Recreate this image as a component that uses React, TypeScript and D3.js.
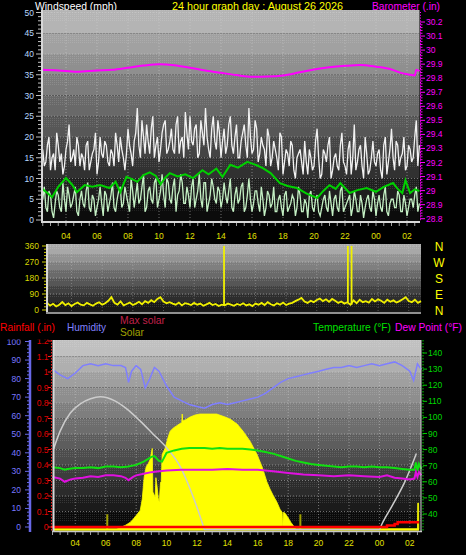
import React from 'react';
import * as d3 from 'd3';

// ---------- DATA ----------
const T0 = 2.4;
const STEP = 0.2;
// gust readings at T0 + 0.2*i
const gust = [15,13,18,12,16,21,14,11,17,
  23,15,13,18,16,12,19,14,17,11,20,
  15,18,13,16,21,14,17,12,22,16,19,
  27,15,20,23,16,25,18,14,21,24,17,
  22,16,25,19,15,21,25,18,23,16,21,
  27,17,22,19,24,15,22,18,25,16,23,
  15,21,18,27,16,24,14,20,17,22,13,
  19,15,21,11,17,13,18,10,16,14,19,
  11,15,13,22,10,17,14,20,12,16,12,
  21,13,17,11,23,14,18,10,16,12,19,
  13,17,10,20,14,22,12,18,15,20,13,
  17,15,24,18];
// gust readings at T0 + 0.1 + 0.2*i
const gustMid = [17,14,20,15,12,18,16,13,19,
  14,17,20,13,15,18,12,16,21,14,16,
  19,14,17,13,18,20,15,16,18,13,21,
  18,24,16,19,22,15,20,17,23,16,19,
  17,23,16,20,26,17,19,22,15,24,18,
  20,15,25,17,21,19,16,23,18,20,15,
  19,23,15,20,17,22,16,18,13,20,15,
  17,12,20,14,16,19,12,15,17,11,14,
  17,12,19,15,11,16,18,10,15,13,18,
  14,11,19,15,12,17,13,20,11,15,14,
  16,12,18,11,17,15,19,13,16,12,18,
  14,20,13];
const windAvg = [4,8,2,6,0.5,7,3,9,2,6,4,8,1,7,3,9,2,5,3,8,1,6,4,9,2,7,3,8,4,10,
  3,9,5,11,3,8,4,10,5,11,3,9,4,10,6,11,4,8,3,10,5,11,3,9,4,10,5,8,3,9,
  4,10,2,8,5,9,3,10,2,7,4,8,1,7,3,8,2,6,1,7,3,6,1,8,2,5,0.5,7,2,6,
  1,5,3,7,1,6,2,8,3,5,1,7,2,6,0.5,5,3,7,1,6,2,8,1,5,3,7,2,6,1,5,3,8,4];
const windAvgMid = [5,3,7,2,4,6,2,5,8,3,6,2,5,4,7,3,6,1,5,4,7,2,6,3,5,8,4,6,2,7,
  6,4,8,2,7,5,9,3,7,6,10,5,8,2,7,9,4,6,8,3,7,5,9,2,6,8,4,7,5,6,
  7,3,6,4,8,2,6,5,4,7,2,5,3,6,4,2,5,3,6,2,4,5,3,6,2,4,6,3,5,2,
  3,6,2,4,5,3,7,2,4,6,3,5,2,4,3,6,2,5,4,3,6,2,4,5,3,6,2,4,3,5,6,2];
const smoothT = [2.4,2.8,3.1,3.5,4.0,4.4,4.7,5.2,5.7,6.2,6.8,7.2,7.5,7.9,8.3,8.6,9.0,9.4,9.8,10.1,10.4,10.7,11.2,11.7,12.2,12.8,13.2,13.7,14.1,14.6,15.1,15.7,16.3,16.7,17.2,17.8,18.3,18.9,19.5,20.2,20.6,21.0,21.4,21.7,22.3,22.8,23.4,24.0,24.5,25.1,25.4,25.7,25.9,26.2,26.5,26.8];
const smoothV = [7.7,6.5,5.5,8,10.1,8.5,6.7,8.4,8.0,8.4,7.7,9.2,6.7,10.4,9.8,9.2,10.8,11.5,10.6,8.6,10.2,11.3,10.5,11.0,10.1,12.0,11.0,12.4,10.4,13.3,12.6,14.0,13.2,12.5,11.3,8.9,8.2,7.7,6.4,5.3,7.0,8.4,7.5,8.9,6.5,7.2,7.7,6.8,8.0,8.9,7.5,6.5,9.6,6.5,7.4,7.0];
const baroT = [2.4,3.5,4.7,6.0,7.0,8.0,9.0,10.0,11.0,12.0,13.0,14.0,15.0,16.0,17.0,18.0,19.0,20.0,21.0,22.0,23.0,24.0,25.0,25.6,26.2,26.5,26.6,26.8];
const baroV = [29.86,29.855,29.846,29.855,29.86,29.875,29.89,29.9,29.893,29.875,29.855,29.838,29.822,29.81,29.812,29.82,29.84,29.862,29.878,29.888,29.894,29.882,29.862,29.838,29.825,29.82,29.86,29.85];
const windDir = [40,25,35,20,30,45,28,38,22,34,42,30,26,40,32,24,36,44,30,38,
  52,72,40,30,48,26,34,42,28,36,46,32,50,40,55,44,62,72,48,38,
  44,36,30,42,26,38,34,28,40,30,36,24,32,40,28,34,22,30,26,36,
  30,24,34,28,38,26,32,22,36,30,40,28,44,32,26,38,30,42,28,36,
  40,50,58,68,48,40,52,44,56,64,50,60,46,62,52,40,48,36,44,30,
  54,38,58,44,50,42,62,48,60,52,40,58,46,54,42,50,60,72,50,44,58,40,50];
const dirSpikeT = [13.95, 22.03, 22.27];
const dirSpikeV = [360, 360, 360];

const humT = [2.5,3,3.5,4,4.5,5,5.5,6,6.5,7,7.3,7.5,7.7,8,8.3,8.6,8.9,9.2,9.5,10,10.5,11,11.5,12,12.5,13,13.5,14,14.5,15,15.5,16,16.5,17,17.5,18,18.5,19,19.5,20,20.5,21,21.5,22,22.5,23,23.5,24,24.5,25,25.5,26,26.25,26.5,26.75];
const humV = [85,82,80,83,87,88,87,88,87,87,86,78,84,87,85,75,80,86,84,76,70,68,66,65,64,66,67,66,67,68,69,70,72,75,78,80,81,82,83,84,85,86,86,87,86,87,88,87,88,89,87,84,79,88,85];
const tempT = [2.5,3,3.3,3.5,4,4.5,5,5.5,6,6.5,7,7.5,8,8.5,9.0,9.2,9.5,9.7,10,10.5,11,11.5,12,12.5,13,13.5,14,14.5,15,15.5,16,16.5,17,17.5,18,18.5,19,19.5,20,20.5,21,21.5,22,22.5,23,23.5,24,24.5,25,25.5,26,26.3,26.4,26.5,26.6,26.75];
const tempV = [69,68.5,67.5,68,68.5,68.5,69,68.5,69.5,69.5,69,69.5,70.5,72.5,75.5,76,73,72.5,78,79.5,80.5,81,81,81,80.5,81,80.5,80.5,80.5,80,79.5,78.5,77.5,76,74.5,73,72,71,70.5,70,69.5,69,69.5,69.5,69,69.5,69,69,68.5,68,67.5,67.5,72,67,71,68];
const dewT = [2.5,3,3.3,3.7,4,4.5,5,5.5,6,6.5,7,7.3,7.5,7.8,8,8.5,9,9.5,10,11,12,13,14,15,16,17,18,19,20,21,22,23,24,24.5,25,25.5,26,26.3,26.4,26.5,26.6,26.75];
const dewV = [63,62,60,61.5,62,62.5,63.5,63,64,64,63.5,62.5,61,63,64,65,66,66.5,67,67.5,67.5,67.5,68,67.5,67.5,66.5,65.5,64.5,64,63.5,64,63.5,63,64,62.5,62,61.5,62,66,63,66,64];
const maxSolarT = [2.56,3.0,3.67,4.33,5.0,5.64,6.1,6.6,7.3,8.27,9.06,10.04,10.9,11.55,12.0,12.34,12.5,24.0,24.15,24.86,25.67,26.43];
const maxSolarV = [510,626,742,800,832,845,839,819,774,690,613,516,400,258,142,45,0,0,32,155,303,484];
const solarT = [6.7,6.95,7.28,7.6,7.8,8.07,8.27,8.4,8.53,8.66,8.8,8.92,9.06,9.1,9.25,9.3,9.38,9.45,9.52,9.6,9.65,9.71,9.9,10.1,10.24,10.43,10.63,10.83,11.0,11.03,11.06,11.22,11.55,11.88,12.2,12.86,13.3,13.85,14.18,14.64,15.03,15.5,15.95,16.28,16.6,16.8,17.0,17.26,17.46,17.6,17.64,17.68,17.8,17.98,18.18,18.38,18.5,26.5,26.52,26.57,26.59];
const solarV = [0,13,26,45,65,97,123,194,335,400,420,445,516,239,206,330,271,200,174,300,303,477,516,587,626,645,658,671,680,735,690,697,716,729,735,735,735,716,703,671,626,561,477,400,303,258,219,174,129,110,0,110,103,77,45,19,0,0,168,168,0];
const uvSpikeT = [6.1, 18.8];
const uvSpikeV = [97, 97];
const rainT = [2.4, 24.1, 24.5, 25.0, 25.2, 26.6];
const rainV = [0, 0, 0.01, 0.02, 0.03, 0.03];

const hourTicks = [4,6,8,10,12,14,16,18,20,22,24,26];
const hourLabels = ['04','06','08','10','12','14','16','18','20','22','00','02'];
const windTicks = [0,5,10,15,20,25,30,35,40,45,50];
const baroTicks = [28.8,28.9,29.0,29.1,29.2,29.3,29.4,29.5,29.6,29.7,29.8,29.9,30.0,30.1,30.2];
const baroLabels = ['28.8','28.9','29','29.1','29.2','29.3','29.4','29.5','29.6','29.7','29.8','29.9','30','30.1','30.2'];
const dirTicks = [0,90,180,270,360];
const compass = ['N','E','S','W','N'];
const humTicks = [0,10,20,30,40,50,60,70,80,90,100];
const rainTicks = [0,0.1,0.2,0.3,0.4,0.5,0.6,0.7,0.8,0.9,1.0,1.1,1.2];
const rainLabels = ['0','0.1','0.2','0.3','0.4','0.5','0.6','0.7','0.8','0.9','1','1.1','1.2'];
const tempTicks = [40,50,60,70,80,90,100,110,120,130,140];

// interleave the two reading sets (no new values are created)
const interleave = (a: number[], b: number[]) => a.flatMap((v, i) => (i < b.length ? [v, b[i]] : [v]));
const gustAll = interleave(gust, gustMid);
const avgAll = interleave(windAvg, windAvgMid);

// ---------- SCALES ----------
const xTop = d3.scaleLinear().domain([2.4, 26.8]).range([41.2, 419.4]);
const yWind = d3.scaleLinear().domain([0, 50]).range([220, 12.5]);
const yBaro = d3.scaleLinear().domain([28.8, 30.2]).range([218.7, 22]);
const xMid = d3.scaleLinear().domain([2.4, 26.8]).range([47, 421]);
const yDir = d3.scaleLinear().domain([0, 360]).range([310, 246]);
const xBot = d3.scaleLinear().domain([2.4, 26.8]).range([51, 422]);
const yHum = d3.scaleLinear().domain([0, 100]).range([527, 341.5]);
const yRain = d3.scaleLinear().domain([0, 1.2]).range([527, 341]);
const yTemp = d3.scaleLinear().domain([40, 140]).range([514, 353]);
const ySolar = d3.scaleLinear().domain([0, 1200]).range([529.5, 341]);

const gridT = (i: number) => T0 + STEP * i;
const fineT = (i: number) => T0 + (STEP / 2) * i;

function Bands({ x0, x1, top, bottom, edges, dark, light }: any) {
  const n = edges.length - 1;
  const c = d3.interpolateRgb(dark, light);
  return (
    <g>
      {d3.range(n).map((i) => {
        const yt = i === n - 1 ? top : edges[i + 1];
        const yb = i === 0 ? bottom : edges[i];
        const mid = (yt + yb) / 2;
        return (
          <g key={i}>
            <rect x={x0} y={yt} width={x1 - x0} height={yb - yt} fill={c(i / (n - 1))} />
            <rect x={x0} y={yt} width={x1 - x0} height={mid - yt} fill="url(#dither)" />
          </g>
        );
      })}
    </g>
  );
}

export default function App() {
  const font = 'Liberation Sans, Arial, sans-serif';
  const fineLine = d3.line<number>().x((d, i) => xTop(fineT(i))).y((d) => yWind(d));
  const smoothLine = d3.line<number>().x((d, i) => xTop(smoothT[i])).y((d) => yWind(d));
  const baroLine = d3.line<number>().x((d, i) => xTop(baroT[i])).y((d) => yBaro(d)).curve(d3.curveMonotoneX);
  const dirLine = d3.line<number>().x((d, i) => xMid(gridT(i))).y((d) => yDir(d));
  const humLine = d3.line<number>().x((d, i) => xBot(humT[i])).y((d) => yHum(d));
  const tempLine = d3.line<number>().x((d, i) => xBot(tempT[i])).y((d) => yTemp(d));
  const dewLine = d3.line<number>().x((d, i) => xBot(dewT[i])).y((d) => yTemp(d));
  const maxSolarLine = d3.line<number>().x((d, i) => xBot(maxSolarT[i])).y((d) => ySolar(d)).curve(d3.curveMonotoneX);
  const solarArea = d3.area<number>().x((d, i) => xBot(solarT[i])).y0(ySolar(0)).y1((d) => ySolar(d));
  const rainLine = d3.line<number>().x((d, i) => xBot(rainT[i])).y((d) => yRain(d)).curve(d3.curveStepAfter);

  const halfHours = d3.range(2.5, 26.8, 0.5);

  return (
    <svg width={466} height={555} style={{ position: 'absolute', left: 0, top: 0, display: 'block' }} fontFamily={font}>
      <defs>
        <pattern id="dither" width="2" height="2" patternUnits="userSpaceOnUse">
          <rect x="0" y="0" width="1" height="1" fill="#ffffff" opacity="0.12" />
        </pattern>
        <clipPath id="botLabels"><rect x="0" y="339.5" width="60" height="200" /></clipPath>
      </defs>
      <rect width={466} height={555} fill="#000" />

      {/* ---------- TITLES ---------- */}
      <text x={35} y={10} fill="#ffffff" fontSize={11} textLength={82} lengthAdjust="spacingAndGlyphs">Windspeed (mph)</text>
      <text x={172} y={10} fill="#ffff00" fontSize={11} textLength={171} lengthAdjust="spacingAndGlyphs">24 hour graph day : August 26 2026</text>
      <text x={372} y={10} fill="#ff00ff" fontSize={11} textLength={68} lengthAdjust="spacingAndGlyphs">Barometer (.in)</text>

      {/* ---------- TOP PANEL ---------- */}
      <Bands x0={42} x1={419.5} top={10} bottom={222} edges={windTicks.map((v) => yWind(v))} dark="#0c0c0c" light="#b4b4b4" />
      {windTicks.slice(1).map((v) => (
        <line key={'hg' + v} x1={42} x2={419} y1={yWind(v)} y2={yWind(v)} stroke="#d0d0d0" strokeOpacity={0.5} strokeDasharray="1 2" />
      ))}
      {hourTicks.map((t) => (
        <line key={'vg' + t} x1={xTop(t)} x2={xTop(t)} y1={10} y2={221} stroke="#d0d0d0" strokeOpacity={0.5} strokeDasharray="1 2" />
      ))}
      <path d={fineLine(gustAll) || ''} fill="none" stroke="#f2f2f2" strokeWidth={1.3} />
      <path d={fineLine(avgAll) || ''} fill="none" stroke="#c4f0c4" strokeWidth={1.3} />
      <path d={smoothLine(smoothV) || ''} fill="none" stroke="#00d000" strokeWidth={2} />
      <path d={baroLine(baroV) || ''} fill="none" stroke="#ff00ff" strokeWidth={2} />
      <line x1={42} x2={42} y1={10} y2={223} stroke="#d8d8d8" strokeWidth={2} />
      <line x1={41} x2={420} y1={222} y2={222} stroke="#d8d8d8" strokeWidth={2} />
      {/* left axis */}
      {d3.range(0, 51, 1).map((v) => (
        <line key={'wt' + v} x1={v % 5 === 0 ? 36 : 38} x2={41} y1={yWind(v)} y2={yWind(v)} stroke="#c0c0c0" strokeWidth={1} />
      ))}
      {windTicks.map((v) => (
        <text key={'wl' + v} x={34} y={yWind(v) + 3} fill="#b8d8ff" fontSize={8.5} textAnchor="end">{v}</text>
      ))}
      {/* right barometer axis */}
      <line x1={420.5} x2={420.5} y1={12} y2={222} stroke="#ff00ff" strokeDasharray="1 1.8" />
      {d3.range(0, 71, 1).map((k) => {
        const b = 28.8 + k * 0.02;
        return <line key={'bt' + k} x1={420} x2={k % 5 === 0 ? 425 : 422.5} y1={yBaro(b)} y2={yBaro(b)} stroke="#ff00ff" strokeWidth={1} />;
      })}
      {baroTicks.map((v, i) => (
        <text key={'bl' + v} x={426} y={yBaro(v) + 3} fill="#ff00ff" fontSize={8.5}>{baroLabels[i]}</text>
      ))}
      {/* bottom ticks */}
      {halfHours.map((t) => (
        <line key={'xt' + t} x1={xTop(t)} x2={xTop(t)} y1={223} y2={226} stroke="#a0a0a0" />
      ))}
      {hourTicks.map((t, i) => (
        <text key={'xl' + t} x={xTop(t)} y={238.5} fill="#e0e000" fontSize={8.5} textAnchor="middle">{hourLabels[i]}</text>
      ))}

      {/* ---------- MIDDLE PANEL ---------- */}
      <Bands x0={47} x1={421} top={244} bottom={313} edges={[0,45,90,135,180,225,270,315,360].map((v) => yDir(v))} dark="#181818" light="#a8a8a8" />
      {dirTicks.slice(1).map((v) => (
        <line key={'dg' + v} x1={47} x2={421} y1={yDir(v)} y2={yDir(v)} stroke="#d0d0d0" strokeOpacity={0.5} strokeDasharray="1 2" />
      ))}
      {hourTicks.map((t) => (
        <line key={'mvg' + t} x1={xMid(t)} x2={xMid(t)} y1={244} y2={312} stroke="#d0d0d0" strokeOpacity={0.35} strokeDasharray="1 2" />
      ))}
      <path d={dirLine(windDir) || ''} fill="none" stroke="#f0f000" strokeWidth={1.8} />
      {dirSpikeT.map((t, i) => (
        <line key={'ds' + i} x1={xMid(t)} x2={xMid(t)} y1={yDir(windDir[Math.round((t - T0) / STEP)])} y2={yDir(dirSpikeV[i])} stroke="#f0f000" strokeWidth={1.8} />
      ))}
      <line x1={47} x2={47} y1={244} y2={314} stroke="#d8d8d8" strokeWidth={2} />
      <line x1={46} x2={421} y1={313} y2={313} stroke="#909090" strokeWidth={2} />
      {d3.range(0, 361, 18).map((v) => (
        <line key={'dt' + v} x1={v % 90 === 0 ? 42 : 44} x2={46} y1={yDir(v)} y2={yDir(v)} stroke="#d0d000" />
      ))}
      {dirTicks.map((v) => (
        <text key={'dl' + v} x={39} y={yDir(v) + 3} fill="#d8d800" fontSize={8.5} textAnchor="end">{v}</text>
      ))}
      {dirTicks.map((v, i) => (
        <text key={'cl' + v} x={439} y={yDir(v) + 4.5} fill="#ffff00" fontSize={12} textAnchor="middle">{compass[i]}</text>
      ))}

      {/* ---------- LEGEND ---------- */}
      <text x={0} y={331} fill="#ff0000" fontSize={11} textLength={55} lengthAdjust="spacingAndGlyphs">Rainfall (.in)</text>
      <text x={67} y={331} fill="#8080ff" fontSize={11} textLength={39} lengthAdjust="spacingAndGlyphs">Humidity</text>
      <text x={120} y={323.5} fill="#c0204a" fontSize={11} textLength={45} lengthAdjust="spacingAndGlyphs">Max solar</text>
      <text x={120} y={335.5} fill="#a0a000" fontSize={11} textLength={24} lengthAdjust="spacingAndGlyphs">Solar</text>
      <text x={313} y={331} fill="#00e000" fontSize={11} textLength={78} lengthAdjust="spacingAndGlyphs">Temperature (°F)</text>
      <text x={395} y={331} fill="#ff00ff" fontSize={11} textLength={67} lengthAdjust="spacingAndGlyphs">Dew Point (°F)</text>

      {/* ---------- BOTTOM PANEL ---------- */}
      <Bands x0={53} x1={421} top={340} bottom={531} edges={rainTicks.map((v) => yRain(v))} dark="#0a0a0a" light="#c0c0c0" />
      {rainTicks.slice(1).map((v) => (
        <line key={'rg' + v} x1={53} x2={421} y1={yRain(v)} y2={yRain(v)} stroke="#d0d0d0" strokeOpacity={0.5} strokeDasharray="1 2" />
      ))}
      {hourTicks.map((t) => (
        <line key={'bvg' + t} x1={xBot(t)} x2={xBot(t)} y1={340} y2={530} stroke="#d0d0d0" strokeOpacity={0.5} strokeDasharray="1 2" />
      ))}
      <path d={solarArea(solarV) || ''} fill="#ffff00" stroke="#ffff00" strokeWidth={0.8} />
      {uvSpikeT.map((t, i) => (
        <line key={'uv' + i} x1={xBot(t)} x2={xBot(t)} y1={ySolar(0)} y2={ySolar(uvSpikeV[i])} stroke="#a0a000" strokeWidth={2} />
      ))}
      <line x1={xBot(2.4) + 2} x2={xBot(26.6)} y1={ySolar(0)} y2={ySolar(0)} stroke="#ffff00" strokeWidth={2.5} />
      <path d={maxSolarLine(maxSolarV) || ''} fill="none" stroke="#cccccc" strokeWidth={1.5} />
      <path d={humLine(humV) || ''} fill="none" stroke="#7f7fff" strokeWidth={1.5} />
      <path d={tempLine(tempV) || ''} fill="none" stroke="#10e010" strokeWidth={2} />
      <path d={dewLine(dewV) || ''} fill="none" stroke="#e010e0" strokeWidth={2} />
      <path d={rainLine(rainV) || ''} fill="none" stroke="#ff0000" strokeWidth={2.5} />
      <line x1={53.5} x2={53.5} y1={340} y2={532} stroke="#d8d8d8" strokeWidth={2} />
      <line x1={52} x2={422} y1={531.5} y2={531.5} stroke="#c8c8c8" strokeWidth={1.5} />
      <line x1={421} x2={421} y1={340} y2={532} stroke="#d0d0d0" strokeWidth={1} />
      {halfHours.map((t) => (
        <line key={'bxt' + t} x1={xBot(t)} x2={xBot(t)} y1={532} y2={535} stroke="#a0a0a0" />
      ))}
      {hourTicks.map((t, i) => (
        <text key={'bxl' + t} x={xBot(t)} y={545.5} fill="#e0e000" fontSize={8.5} textAnchor="middle">{hourLabels[i]}</text>
      ))}
      {/* humidity axis */}
      <line x1={30} x2={30} y1={340} y2={532} stroke="#6868e8" strokeWidth={2.5} />
      {d3.range(0, 101, 2).map((v) => (
        <line key={'ht' + v} x1={v % 10 === 0 ? 25 : 27} x2={29} y1={yHum(v)} y2={yHum(v)} stroke="#6868e8" />
      ))}
      <g clipPath="url(#botLabels)">
        {humTicks.map((v) => (
          <text key={'hl' + v} x={21} y={yHum(v) + 3} fill="#7878ff" fontSize={8.5} textAnchor="end">{v}</text>
        ))}
        {rainTicks.map((v, i) => (
          <text key={'rl' + v} x={48.5} y={yRain(v) + 3} fill="#e00000" fontSize={8.5} textAnchor="end">{rainLabels[i]}</text>
        ))}
      </g>
      {/* rain axis */}
      <line x1={51.5} x2={51.5} y1={340} y2={532} stroke="#ff2020" strokeDasharray="1.5 1.5" />
      {rainTicks.map((v) => (
        <line key={'rt' + v} x1={48} x2={51} y1={yRain(v)} y2={yRain(v)} stroke="#ff2020" />
      ))}
      {/* temperature axis */}
      <line x1={423} x2={423} y1={340} y2={532} stroke="#00d000" strokeDasharray="1.5 1.5" />
      {tempTicks.map((v) => (
        <line key={'tt' + v} x1={423} x2={427} y1={yTemp(v)} y2={yTemp(v)} stroke="#00d000" />
      ))}
      {tempTicks.map((v) => (
        <text key={'tl' + v} x={428} y={yTemp(v) + 3} fill="#00d800" fontSize={8.5}>{v}</text>
      ))}
    </svg>
  );
}
